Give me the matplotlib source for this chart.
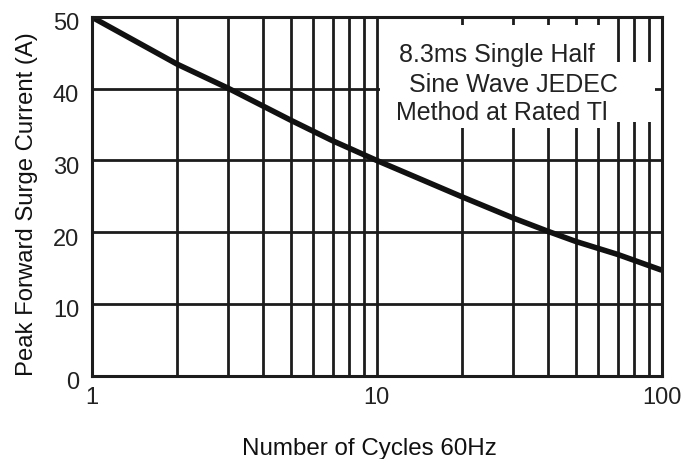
import matplotlib
matplotlib.use("Agg")
import matplotlib.pyplot as plt
import matplotlib.transforms as mtransforms
from matplotlib.patches import Polygon

# ---- data ----
cycles = [1, 2, 3, 5, 7, 10, 20, 30, 40, 50, 70, 100]
surge_current = [50.0, 43.4, 40.1, 35.6, 32.75, 30.0, 24.9, 22.0, 20.1, 18.7, 16.9, 14.7]
x_ticks = [1, 10, 100]
x_tick_labels = ["1", "10", "100"]
y_ticks = [0, 10, 20, 30, 40, 50]
x_label = "Number of Cycles 60Hz"
y_label = "Peak Forward Surge Current (A)"
note_lines = ["8.3ms Single Half", "Sine Wave JEDEC", "Method at Rated Tl"]

plt.rcParams['font.family'] = ['Liberation Sans', 'DejaVu Sans']

W, H = 692, 459
fig = plt.figure(figsize=(W / 100, H / 100), dpi=100)
ax_l, ax_r, ax_t, ax_b = 91.7, 661.7, 17.0, 375.6
ax = fig.add_axes([ax_l / W, 1 - ax_b / H, (ax_r - ax_l) / W, (ax_b - ax_t) / H])

ink = "#1c1c1c"
ax.set_xscale("log")
ax.set_xlim(1, 100)
ax.set_ylim(0, 50)

# grid: majors + minors on x, 10-step on y
ax.set_xticks(x_ticks)
ax.set_xticklabels(x_tick_labels)
ax.set_xticks([v * d for d in (1, 10) for v in range(2, 10)], minor=True)
ax.set_yticks(y_ticks)
ax.grid(True, which="both", axis="x", color=ink, linewidth=2.0, zorder=1)
ax.grid(True, which="major", axis="y", color=ink, linewidth=2.0, zorder=1)
ax.set_axisbelow(True)

ax.tick_params(axis="both", which="both", length=0)
ax.tick_params(axis="x", pad=8, labelsize=17, colors="#222222")
ax.tick_params(axis="y", pad=9, labelsize=17, colors="#222222")
ax.xaxis.set_minor_formatter(matplotlib.ticker.NullFormatter())

# shift y tick labels slightly downward like the reference
off = mtransforms.ScaledTranslation(0, -5 / 100, fig.dpi_scale_trans)
for lab in ax.get_yticklabels():
    lab.set_transform(lab.get_transform() + off)

for s in ax.spines.values():
    s.set_color(ink)
    s.set_linewidth(2.2)
    s.set_zorder(6)

# curve
ax.plot(cycles, surge_current, color="#111111", linewidth=4.0,
        solid_capstyle="butt", solid_joinstyle="round", zorder=5, clip_on=True)

# white note area (irregular cut-out of the grid)
def af(px, py):
    return ((px - ax_l) / (ax_r - ax_l), (ax_b - py) / (ax_b - ax_t))

poly_px = [(380, 25), (612, 25), (612, 62), (655, 62), (655, 122),
           (612, 122), (612, 128), (380, 128)]
patch = Polygon([af(*p) for p in poly_px], closed=True, transform=ax.transAxes,
                facecolor="white", edgecolor="none", zorder=3)
ax.add_patch(patch)

line_pos = [(399, 61.7), (409, 91.7), (396, 120.0)]
for txt, (px, py) in zip(note_lines, line_pos):
    fx, fy = af(px, py)
    ax.text(fx, fy, txt, transform=ax.transAxes, ha="left", va="baseline",
            fontsize=18, color="#222222", zorder=7)

fig.text(369 / W, 1 - 455 / H, x_label, ha="center", va="baseline",
         fontsize=17.4, color="#111111")
fig.text(27 / W, 1 - 204 / H, y_label, ha="center", va="center",
         rotation=90, fontsize=17.2, color="#111111")

fig.savefig("out.png", dpi=100, facecolor="white")
